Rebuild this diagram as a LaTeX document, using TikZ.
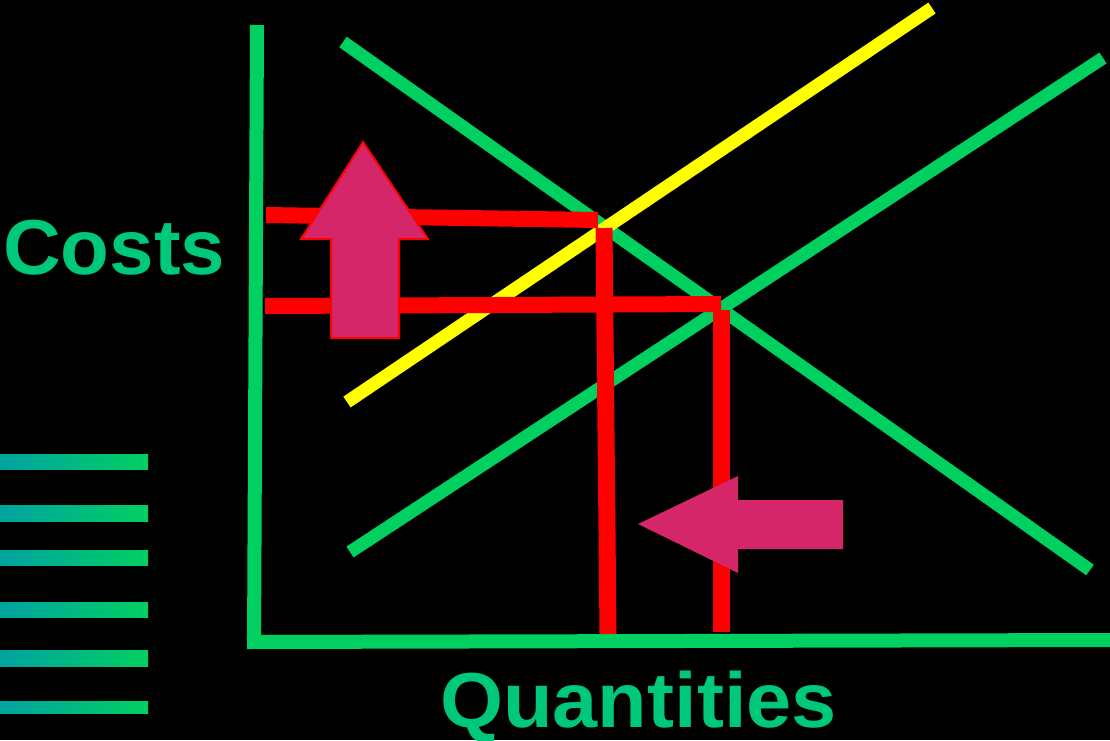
\documentclass[tikz,border=0pt]{standalone}
\usepackage{graphicx}
\usepackage{fontspec}
\setmainfont{Liberation Sans}
\definecolor{lgreen}{RGB}{0,208,96}
\definecolor{tgreen}{RGB}{0,200,122}
\definecolor{tealL}{RGB}{0,163,160}
\definecolor{yel}{RGB}{255,255,0}
\definecolor{rred}{RGB}{255,0,0}
\definecolor{pink}{RGB}{214,38,106}
\tikzset{
  curve/.style={line width=13pt, lgreen, line cap=butt},
  axisline/.style={line width=14pt, lgreen},
  guide/.style={line width=16pt, rred},
  bigarrow/.style={fill=pink},
  stripe/.style={left color=tealL, right color=lgreen},
  lbl/.style={text=tgreen, font=\fontsize{78}{90}\selectfont\bfseries, inner sep=0pt, anchor=base west}
}
\begin{document}
\begin{tikzpicture}[x=1pt,y=-1pt]
\useasboundingbox (0,0) rectangle (1110,740);
\fill[black] (0,0) rectangle (1110,740);
% stripes
\foreach \ya/\yb in {454/469,505/521,550/565,602/617,650/666,701/713}
  \shade[stripe] (0,\ya) rectangle (148,\yb);
% axes
\draw[axisline] (257,25) -- (254,648);
\draw[axisline] (247,642) -- (1110,640);
% demand and supply
\draw[curve] (343,42) -- (1090,570);
\draw[curve] (350,552) -- (1103,58);
\draw[curve, yel] (347,402) -- (932,8);
% red guides
\draw[guide] (266,215) -- (598,220);
\draw[guide, line width=17pt] (604,228) -- (608,634);
\draw[guide] (265,306) -- (721,304);
\draw[guide, line width=17pt] (721,310) -- (721,632);
% up arrow
\draw[bigarrow, draw=rred, line width=2pt, line join=miter]
  (363,142) -- (428,239) -- (399,239) -- (399,338) -- (331,338) -- (331,239) -- (301,239) -- cycle;
% left arrow
\fill[bigarrow] (638,524) -- (738,476) -- (738,500) -- (843,500) -- (843,549) -- (738,549) -- (738,573) -- cycle;
% labels
\node[lbl] (costs) at (3,274) {\scalebox{1.025}[1]{Costs}};
\node[lbl, text depth=0pt] (qty) at (440,727) {\scalebox{1.04}[1]{Quantities}};
\end{tikzpicture}
\end{document}
